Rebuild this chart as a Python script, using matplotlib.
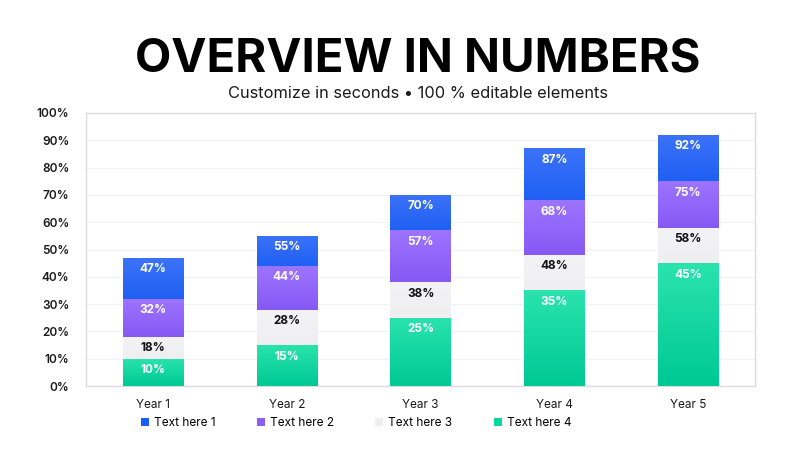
import numpy as np
import matplotlib.pyplot as plt
from matplotlib.colors import LinearSegmentedColormap
from matplotlib.ticker import FuncFormatter

# Cumulative labels shown on each segment
years = ["Year 1", "Year 2", "Year 3", "Year 4", "Year 5"]
series_names = ["Text here 1", "Text here 2", "Text here 3", "Text here 4"]
cum_4 = [10, 15, 25, 35, 45]
cum_3 = [18, 28, 38, 48, 58]
cum_2 = [32, 44, 57, 68, 75]
cum_1 = [47, 55, 70, 87, 92]

plt.rcParams['font.family'] = ['Inter', 'DejaVu Sans']

fig = plt.figure(figsize=(8, 4.5), dpi=100)
ax = fig.add_axes([0.1075, 0.142, 0.8365, 0.607])

x = np.arange(len(years))
w = 0.45

# segment heights from the cumulative values
seg4 = np.array(cum_4)
seg3 = np.array(cum_3) - np.array(cum_4)
seg2 = np.array(cum_2) - np.array(cum_3)
seg1 = np.array(cum_1) - np.array(cum_2)

# (top colour, bottom colour, legend colour, label colour)
styles = [
    ("#2ae3ad", "#00c994", "#06d6a0", "white"),
    ("#f3f3f5", "#efeff2", "#eeeef0", "#111111"),
    ("#9d74ff", "#8659f4", "#8c5cf5", "white"),
    ("#3c72f8", "#1f60f3", "#1a5ff5", "white"),
]
segs = [seg4, seg3, seg2, seg1]
cums = [cum_4, cum_3, cum_2, cum_1]
names = [series_names[3], series_names[2], series_names[1], series_names[0]]

bottom = np.zeros(len(years))
handles = {}
for seg, cum, name, (ctop, cbot, cleg, ctxt) in zip(segs, cums, names, styles):
    bars = ax.bar(x, seg, w, bottom=bottom, color=cleg, edgecolor="none", zorder=2, label=name)
    handles[name] = bars
    cmap = LinearSegmentedColormap.from_list("g", [cbot, ctop])
    grad = np.linspace(0, 1, 64).reshape(-1, 1)
    for b in bars:
        x0, y0 = b.get_x(), b.get_y()
        im = ax.imshow(grad, cmap=cmap, origin="lower", aspect="auto",
                       extent=[x0, x0 + b.get_width(), y0, y0 + b.get_height()], zorder=3)
        im.set_clip_path(b)
    for xi, top, c in zip(x, bottom + seg, cum):
        ax.text(xi, top - 2.0, f"{c}%", ha="center", va="top", fontsize=8.5,
                fontweight="bold", color=ctxt, zorder=4)
    bottom = bottom + seg

ax.set_xlim(-0.5, len(years) - 0.5)
ax.set_ylim(0, 100)
ax.set_yticks(np.arange(0, 101, 10))
ax.yaxis.set_major_formatter(FuncFormatter(lambda v, p: f"{int(v)}%"))
ax.set_xticks(x)
ax.set_xticklabels(years)
ax.tick_params(axis="both", length=0, labelsize=8.5, colors="#1a1a1a")
ax.tick_params(axis="y", pad=12)
ax.tick_params(axis="x", pad=9)
for lab in ax.get_yticklabels():
    lab.set_fontweight("semibold")
ax.grid(axis="y", color="#f2f2f2", linewidth=0.8, zorder=0)
ax.set_axisbelow(True)
for s in ax.spines.values():
    s.set_color("#dcdcdc")
    s.set_linewidth(1.0)

order = series_names
leg = fig.legend([handles[n] for n in order], order, loc="center", ncol=4,
                 bbox_to_anchor=(0.445, 0.060), frameon=False, fontsize=8.5,
                 handlelength=0.7, handleheight=0.7, handletextpad=0.4, columnspacing=3.5)

fig.text(0.522, 0.840, "OVERVIEW IN NUMBERS", ha="center", va="baseline",
         fontsize=34, fontweight="bold", color="black")
fig.text(0.522, 0.793, "Customize in seconds \u2022 100 % editable elements", ha="center",
         va="center", fontsize=11.8, color="#1a1a1a")

fig.savefig("out.png", dpi=100)
